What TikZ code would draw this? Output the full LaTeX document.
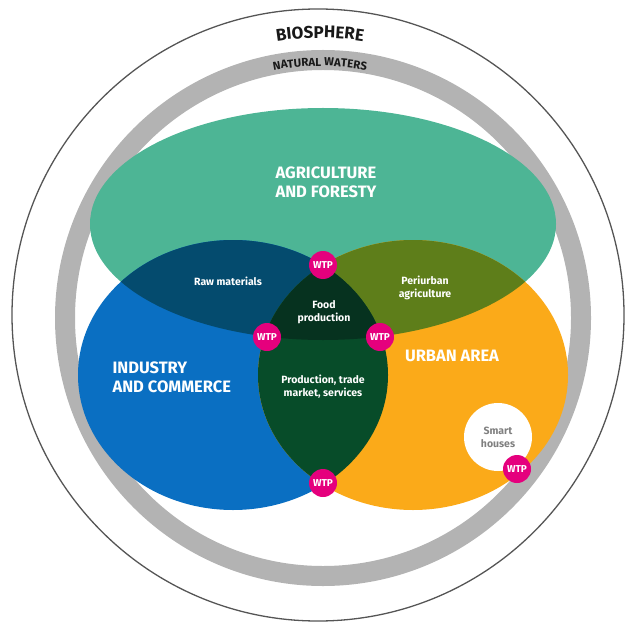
\documentclass[tikz,border=0pt]{standalone}
\usepackage{fontspec}
\setmainfont{Fira Sans}
\usetikzlibrary{decorations.text}
\definecolor{agrigreen}{HTML}{4DB595}
\definecolor{indblue}{HTML}{0A6FC2}
\definecolor{urborange}{HTML}{FBAA19}
\definecolor{rawblue}{HTML}{044B6E}
\definecolor{perigreen}{HTML}{5E7E1A}
\definecolor{tradegreen}{HTML}{074C29}
\definecolor{foodgreen}{HTML}{06321F}
\definecolor{wtppink}{HTML}{E5007D}
\definecolor{watergray}{HTML}{B3B3B3}
\definecolor{bioline}{HTML}{555555}

\begin{document}
\begin{tikzpicture}[
    x=1pt,y=-1pt,
    wtp/.style    = {circle,fill=wtppink,text=white,inner sep=0pt,minimum size=28pt,
                     font=\bfseries\fontsize{10}{10}\selectfont},
    sector/.style = {text=white,align=left,font=\bfseries\fontsize{16.5}{19}\selectfont},
    zone/.style   = {text=white,align=center,font=\bfseries\fontsize{10.5}{13}\selectfont},
    ringtxt/.style= {decorate,decoration={text along path,text align=center,text={#1}}},
  ]
  \useasboundingbox (0,0) rectangle (624,628);

  % biosphere line and natural waters ring
  \draw[bioline,line width=1.3pt] (318,315) circle [radius=306];
  \draw[watergray,line width=20pt] (323,318) circle [radius=258];
  \path[ringtxt={|\bfseries\fontsize{17}{17}\selectfont\color{black!90}|BIOSPHERE}]
    (320,317) ++(245:279) arc [start angle=245,end angle=295,radius=279];
  \path[ringtxt={|\bfseries\fontsize{11.5}{11.5}\selectfont\color{black!90}|NATURAL WATERS}]
    (320,317) ++(245:251) arc [start angle=245,end angle=295,radius=251];

  % the three sectors
  \fill[agrigreen] (323,224) ellipse [x radius=233,y radius=116];
  \fill[indblue]   (233,375) ellipse [x radius=155,y radius=135];
  \fill[urborange] (413,375) ellipse [x radius=155,y radius=135];

  % overlaps
  \begin{scope}
    \clip (323,224) ellipse [x radius=233,y radius=116];
    \fill[rawblue]   (233,375) ellipse [x radius=155,y radius=135];
    \fill[perigreen] (413,375) ellipse [x radius=155,y radius=135];
  \end{scope}
  \begin{scope}
    \clip (233,375) ellipse [x radius=155,y radius=135];
    \fill[tradegreen] (413,375) ellipse [x radius=155,y radius=135];
    \clip (323,224) ellipse [x radius=233,y radius=116];
    \fill[foodgreen] (413,375) ellipse [x radius=155,y radius=135];
  \end{scope}

  % labels
  \node[sector]          (agri)  at (326,182) {AGRICULTURE\\AND FORESTY};
  \node[sector,anchor=west] (ind) at (109,377) {INDUSTRY\\AND COMMERCE};
  \node[sector]          (urb)   at (452,356) {URBAN AREA};

  \node[zone] (raw)   at (228,281) {Raw materials};
  \node[zone] (peri)  at (425,288) {Periurban\\agriculture};
  \node[zone] (food)  at (324,312) {Food\\production};
  \node[zone] (trade) at (323,387) {Production, trade\\market, services};

  \node[circle,fill=white,minimum size=68pt,inner sep=0pt,align=center,text=black!50,
        font=\bfseries\fontsize{10.5}{13}\selectfont] (smart) at (498,437) {Smart\\houses};

  % treatment plants
  \node[wtp] (wtptop)   at (323,265) {WTP};
  \node[wtp] (wtpleft)  at (267,337) {WTP};
  \node[wtp] (wtpright) at (380,337) {WTP};
  \node[wtp] (wtpbot)   at (323,483) {WTP};
  \node[wtp] (wtpsmart) at (517,469) {WTP};
\end{tikzpicture}
\end{document}
